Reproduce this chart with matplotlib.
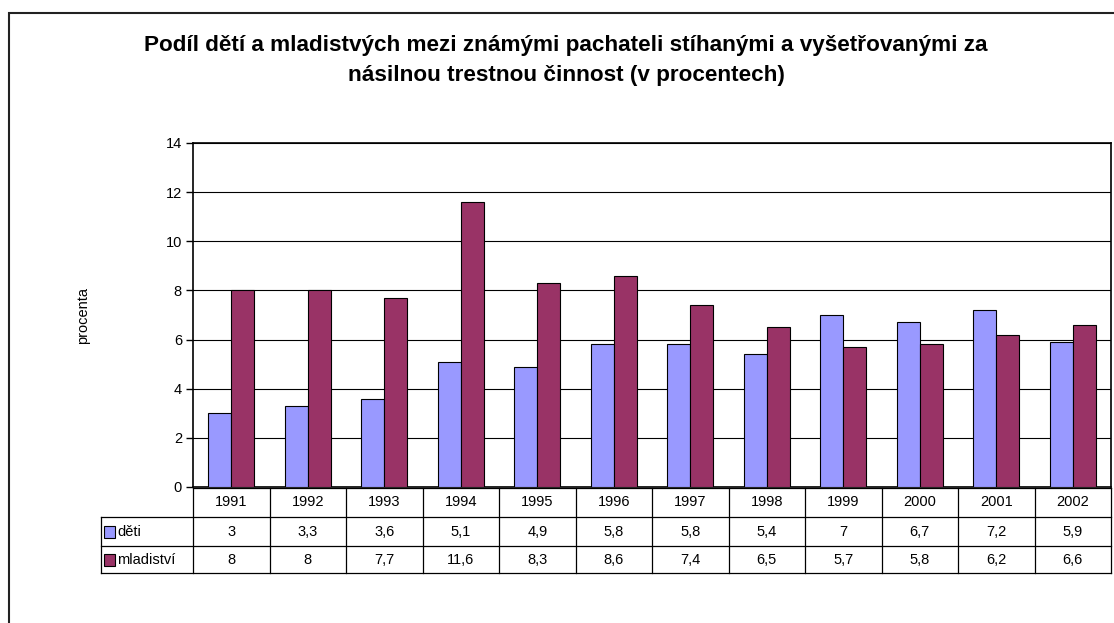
import numpy as np
import matplotlib.pyplot as plt
from matplotlib.patches import Rectangle
from matplotlib.lines import Line2D
from matplotlib.transforms import blended_transform_factory

plt.rcParams["font.family"] = ["Liberation Sans", "DejaVu Sans"]

years = ["1991", "1992", "1993", "1994", "1995", "1996",
         "1997", "1998", "1999", "2000", "2001", "2002"]
deti = [3, 3.3, 3.6, 5.1, 4.9, 5.8, 5.8, 5.4, 7, 6.7, 7.2, 5.9]
mladistvi = [8, 8, 7.7, 11.6, 8.3, 8.6, 7.4, 6.5, 5.7, 5.8, 6.2, 6.6]

series = [("děti", deti, "#9999FF"), ("mladiství", mladistvi, "#993366")]

W, H = 1114, 623
fig = plt.figure(figsize=(W / 100, H / 100), dpi=100)

# outer chart border
fig.add_artist(Rectangle((9 / W, -0.01), 1.02, 1 - 13 / H + 0.01,
                         transform=fig.transFigure, fill=False,
                         edgecolor="#222222", linewidth=1.5))

left, right, top, bottom = 193, 1111, 143, 487
ax = fig.add_axes([left / W, 1 - bottom / H, (right - left) / W, (bottom - top) / H])

x = np.arange(len(years))
width = 0.3
for i, (name, vals, color) in enumerate(series):
    ax.bar(x + (i - 0.5) * width, vals, width, color=color,
           edgecolor="black", linewidth=0.8, zorder=3)

ax.set_xlim(-0.5, len(years) - 0.5)
ax.set_ylim(0, 14)
ax.set_yticks(range(0, 15, 2))
ax.yaxis.grid(True, color="black", linewidth=0.8, zorder=0)
ax.set_xticks([])
ax.tick_params(axis="y", length=5, width=1, labelsize=10.5, pad=3)
for s in ax.spines.values():
    s.set_linewidth(1.2)
ax.set_ylabel("procenta", fontsize=10.5, labelpad=0)
ax.yaxis.set_label_coords(-(left - 90) / (right - left), 0.5)

# data table below the axes
tr = blended_transform_factory(ax.transData, fig.transFigure)
def fy(py):
    return 1 - py / H

row_y = [488, 517, 546, 573]
lw = 0.9
# horizontal lines
fig.add_artist(Line2D([left / W, right / W], [fy(row_y[0])] * 2, color="black", lw=lw))
for ry in row_y[1:]:
    fig.add_artist(Line2D([101 / W, right / W], [fy(ry)] * 2, color="black", lw=lw))
# vertical lines
fig.add_artist(Line2D([101 / W] * 2, [fy(row_y[1]), fy(row_y[3])], color="black", lw=lw))
for b in np.arange(len(years) + 1) - 0.5:
    ax.add_line(Line2D([b, b], [fy(row_y[0]), fy(row_y[3])], transform=tr,
                       color="black", lw=lw, clip_on=False))

for j, yr in enumerate(years):
    ax.text(j, fy((row_y[0] + row_y[1]) / 2), yr, transform=tr, ha="center",
            va="center", fontsize=10.5, clip_on=False)
for r, (name, vals, color) in enumerate(series):
    yc = (row_y[r + 1] + row_y[r + 2]) / 2
    for j, v in enumerate(vals):
        ax.text(j, fy(yc), f"{v:g}".replace(".", ","), transform=tr,
                ha="center", va="center", fontsize=10.5, clip_on=False)
    fig.add_artist(Rectangle((104 / W, fy(yc + 6)), 11 / W, 12 / H,
                             transform=fig.transFigure, facecolor=color,
                             edgecolor="black", linewidth=0.8))
    fig.text(117 / W, fy(yc), name, ha="left", va="center", fontsize=10.5)

fig.text(566 / W, fy(45), "Podíl dětí a mladistvých mezi známými pachateli stíhanými a vyšetřovanými za",
         ha="center", va="center", fontsize=16.2, fontweight="bold")
fig.text(566 / W, fy(75), "násilnou trestnou činnost (v procentech)",
         ha="center", va="center", fontsize=16.2, fontweight="bold")

fig.savefig("out.png", dpi=100)
